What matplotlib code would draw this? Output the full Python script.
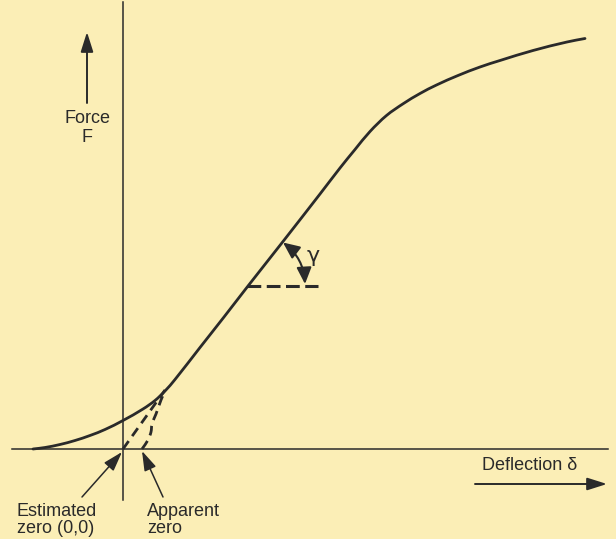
import matplotlib
matplotlib.use("Agg")
import matplotlib.pyplot as plt
import numpy as np
from matplotlib.patches import FancyArrowPatch, PathPatch
from matplotlib.path import Path

# ---- data (arbitrary units, origin = estimated zero) ----
curve_x = [-1.80, -1.56, -1.26, -0.96, -0.66, -0.36, 0.00, 0.40, 0.64, 0.84, 1.04,
           1.54, 2.02, 2.50, 3.20, 3.94, 4.34, 4.64, 4.94, 5.27, 5.61, 5.94,
           6.27, 6.70, 7.14, 7.54, 8.20, 8.88, 9.24]
curve_y = [0.00, 0.03, 0.09, 0.17, 0.27, 0.39, 0.57, 0.80, 0.97, 1.16, 1.39,
           2.03, 2.64, 3.26, 4.15, 5.10, 5.62, 5.99, 6.35, 6.67, 6.91, 7.11,
           7.28, 7.47, 7.64, 7.77, 7.97, 8.14, 8.21]

est_x = [0.00, 0.84]
est_y = [0.00, 1.18]

app_x = [0.38, 0.50, 0.56, 0.58, 0.66, 0.76, 0.84]
app_y = [0.00, 0.18, 0.34, 0.50, 0.70, 0.98, 1.16]

tan_x = [2.48, 3.90]
tan_y = [3.26, 3.26]

labels = {
    "force": "Force\nF",
    "defl": "Deflection δ",
    "est": "Estimated\nzero (0,0)",
    "app": "Apparent\nzero",
    "gamma": "γ",
}


def smooth_path(xs, ys):
    """Smooth cubic Bezier path through the points (chord-length tangents)."""
    p = np.column_stack([xs, ys]).astype(float)
    n = len(p)
    seg = np.linalg.norm(np.diff(p, axis=0), axis=1)
    m = np.zeros_like(p)
    m[0] = (p[1] - p[0]) / seg[0]
    m[-1] = (p[-1] - p[-2]) / seg[-1]
    for i in range(1, n - 1):
        m[i] = (p[i + 1] - p[i - 1]) / (seg[i - 1] + seg[i])
    verts = [tuple(p[0])]
    codes = [Path.MOVETO]
    for i in range(n - 1):
        L = seg[i]
        c1 = p[i] + m[i] * L / 3.0
        c2 = p[i + 1] - m[i + 1] * L / 3.0
        verts += [tuple(c1), tuple(c2), tuple(p[i + 1])]
        codes += [Path.CURVE4] * 3
    return Path(verts, codes)


# ---- figure ----
BG = "#FBEEB6"
INK = "#2a2a2a"
W, H = 616, 539
fig = plt.figure(figsize=(W / 100, H / 100), dpi=100, facecolor=BG)
ax = fig.add_axes([0, 0, 1, 1], facecolor=BG)
ax.set_xlim(-123 / 50, (W - 123) / 50)
ax.set_ylim((449 - H) / 50, 449 / 50)
ax.axis("off")

# axes lines
ax.plot([0, 0], [-1.02, 8.95], color=INK, lw=1.1)
ax.plot([-2.22, 9.70], [0, 0], color=INK, lw=1.1)

# main curve
ax.add_patch(PathPatch(smooth_path(curve_x, curve_y), facecolor="none",
                       edgecolor=INK, lw=2.0, capstyle="round"))

# dashed lines near origin
ax.plot(est_x, est_y, color=INK, lw=2.0, dashes=(3.5, 2.2))
ax.add_patch(PathPatch(smooth_path(app_x, app_y), facecolor="none",
                       edgecolor=INK, lw=2.0, linestyle=(0, (3.5, 2.2))))

# tangent reference dashed line
ax.plot(tan_x, tan_y, color=INK, lw=2.2, dashes=(4.5, 1.8))

# angle arc arrow
arc = FancyArrowPatch((3.20, 4.13), (3.64, 3.30),
                      connectionstyle="arc3,rad=-0.23",
                      arrowstyle="<|-|>,head_length=10,head_width=4.5",
                      color=INK, lw=1.5, shrinkA=0, shrinkB=0)
ax.add_patch(arc)
ax.text(3.80, 3.86, labels["gamma"], fontsize=16, color=INK,
        ha="center", va="center", family="DejaVu Sans")

fs = 13
fam = ["Liberation Sans", "DejaVu Sans"]
big_head = "-|>,head_length=1.2,head_width=0.38"

# Force label + arrow
ax.annotate("", xy=(-0.72, 8.34), xytext=(-0.72, 6.92),
            arrowprops=dict(arrowstyle=big_head, color=INK, lw=1.4,
                            shrinkA=0, shrinkB=0))
ax.text(-0.72, 6.42, labels["force"], fontsize=fs, color=INK, ha="center",
        va="center", family=fam, linespacing=1.15)

# Deflection label + arrow
ax.text(8.14, -0.34, labels["defl"], fontsize=fs, color=INK, ha="center",
        va="center", family=fam)
ax.annotate("", xy=(9.68, -0.70), xytext=(7.04, -0.70),
            arrowprops=dict(arrowstyle=big_head, color=INK, lw=1.4,
                            shrinkA=0, shrinkB=0))

# zero labels + arrows
ax.annotate("", xy=(-0.02, -0.06), xytext=(-0.82, -0.96),
            arrowprops=dict(arrowstyle=big_head, color=INK, lw=1.1,
                            shrinkA=0, shrinkB=0))
ax.annotate("", xy=(0.38, -0.04), xytext=(0.80, -0.96),
            arrowprops=dict(arrowstyle=big_head, color=INK, lw=1.1,
                            shrinkA=0, shrinkB=0))
ax.text(-2.12, -1.42, labels["est"], fontsize=fs, color=INK, ha="left",
        va="center", family=fam, linespacing=1.0)
ax.text(0.48, -1.42, labels["app"], fontsize=fs, color=INK, ha="left",
        va="center", family=fam, linespacing=1.0)

fig.savefig("out.png", dpi=100, facecolor=BG)
